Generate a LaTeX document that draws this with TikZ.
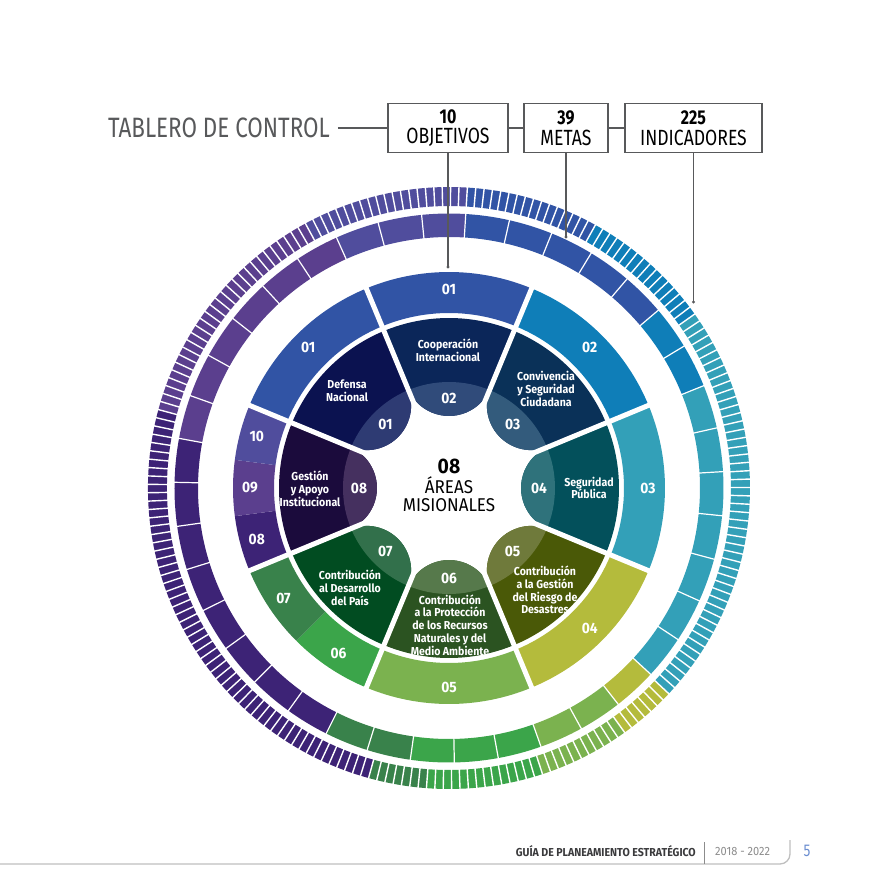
\documentclass[tikz,border=0pt]{standalone}
\usepackage{fontspec}
\setmainfont{Fira Sans}[FakeStretch=0.8]
\newfontfamily\widesans{Fira Sans}[FakeStretch=0.92]
\usetikzlibrary{positioning}
\definecolor{obj01}{HTML}{3154A5}
\definecolor{obj02}{HTML}{0F7EB8}
\definecolor{obj03}{HTML}{33A0B8}
\definecolor{obj04}{HTML}{B4BB3C}
\definecolor{obj05}{HTML}{7BB24F}
\definecolor{obj06}{HTML}{3BA54A}
\definecolor{obj07}{HTML}{39824B}
\definecolor{obj08}{HTML}{3D2376}
\definecolor{obj09}{HTML}{5B3F8E}
\definecolor{obj10}{HTML}{504D9D}
\definecolor{areaDef}{HTML}{0B1250}
\definecolor{lobeDef}{HTML}{2E3B73}
\definecolor{areaCoop}{HTML}{0B2659}
\definecolor{lobeCoop}{HTML}{304B7A}
\definecolor{areaConv}{HTML}{0A3158}
\definecolor{lobeConv}{HTML}{335B7C}
\definecolor{areaSeg}{HTML}{03505B}
\definecolor{lobeSeg}{HTML}{2F727B}
\definecolor{areaRie}{HTML}{4A5907}
\definecolor{lobeRie}{HTML}{6F7A3B}
\definecolor{areaPro}{HTML}{2B5321}
\definecolor{lobePro}{HTML}{56794B}
\definecolor{areaDes}{HTML}{014C21}
\definecolor{lobeDes}{HTML}{32704B}
\definecolor{areaGes}{HTML}{1B0B3C}
\definecolor{lobeGes}{HTML}{45305F}
\definecolor{framegray}{HTML}{58595B}
\definecolor{footgray}{HTML}{3A3A3C}
\definecolor{pageblue}{HTML}{6A8DD0}

% annular piece: color, start angle, end angle, inner radius, outer radius
\newcommand\ringseg[5]{\fill[#1] ({#2}:#4) arc[start angle=#2, end angle=#3, radius=#4] -- ({#3}:#5) arc[start angle=#3, end angle=#2, radius=#5] -- cycle;}
% area petal: angle, color
\newcommand\petal[2]{\fill[#2] ({#1+22.5}:170) arc[start angle={#1+22.5}, end angle={#1-22.5}, radius=170] -- ({#1-22.5}:107.8) arc[start angle={#1-112.5}, end angle={#1-247.5}, radius=44.66] -- cycle;}

\begin{document}
\begin{tikzpicture}[x=1pt, y=1pt,
    ringnum/.style={text=white, font=\widesans\bfseries\fontsize{15}{15}\selectfont},
    areatxt/.style={text=white, align=center, font=\widesans\bfseries\fontsize{11.5}{12.8}\selectfont},
    countbox/.style={draw=framegray, line width=1.3, align=center, minimum height=49, inner sep=0, font=\fontsize{22}{20.5}\selectfont},
    link/.style={framegray, line width=1.2}]
    \useasboundingbox (-449,-407) rectangle (442,488);

    % Indicator ring (225)
    \foreach \c/\f/\n in {obj01/0/16, obj02/16/16, obj03/32/49, obj04/81/7, obj05/88/11, obj06/99/14, obj07/113/7, obj08/120/56, obj09/176/29, obj10/205/20}{
        \pgfmathsetmacro\aS{86.5-1.6*\f}
        \pgfmathsetmacro\aE{86.5-1.6*(\f+\n)}
        \ringseg{\c}{\aS}{\aE}{282}{301}
    }
    \foreach \i in {0,...,224}
        \draw[white, line width=1.4] ({86.5-1.6*\i}:280) -- ({86.5-1.6*\i}:303);

    % Goal ring (39)
    \foreach \c/\f/\n in {obj01/0/5, obj02/5/2, obj03/7/7, obj04/14/1, obj05/15/2, obj06/17/3, obj07/20/2, obj08/22/8, obj09/30/6, obj10/36/3}{
        \pgfmathsetmacro\aS{86.5-360/39*\f}
        \pgfmathsetmacro\aE{86.5-360/39*(\f+\n)}
        \ringseg{\c}{\aS}{\aE}{251}{274.5}
    }
    \foreach \i in {0,...,38}
        \draw[white, line width=1.2] ({86.5-360/39*\i}:249) -- ({86.5-360/39*\i}:277);

    % Objective ring (10)
    \foreach \c/\a/\b in {obj01/67.5/112.5, obj01/112.5/157.5, obj02/22.5/67.5, obj03/-22.5/22.5, obj04/-67.5/-22.5, obj05/-112.5/-67.5, obj06/-135/-112.5, obj07/-157.5/-135, obj08/-172.5/-157.5, obj09/-187.5/-172.5, obj10/-202.5/-187.5}{
        \ringseg{\c}{\a}{\b}{175}{216}
    }

    % Mission areas
    \foreach \ang/\base/\lobe in {135/areaDef/lobeDef, 90/areaCoop/lobeCoop, 45/areaConv/lobeConv, 0/areaSeg/lobeSeg, -45/areaRie/lobeRie, -90/areaPro/lobePro, -135/areaDes/lobeDes, 180/areaGes/lobeGes}{
        \petal{\ang}{\base}
        \begin{scope}
            \clip (0,0) circle (106);
            \petal{\ang}{\lobe}
        \end{scope}
    }

    % Gaps
    \foreach \a in {22.5,67.5,...,337.5}
        \draw[white, line width=5] (\a:60) -- (\a:220);

    % Ring numbers
    \foreach \t/\a [count=\k] in {01/90, 01/135, 02/45, 03/0, 04/-45, 05/-90, 06/-123.75, 07/-146.25, 08/-165, 09/180, 10/165}
        \node[ringnum] (objlbl\k) at (\a:199) {\t};
    \foreach \t/\a [count=\k] in {01/135, 02/90, 03/45, 04/0, 05/-45, 06/-90, 07/-135, 08/180}
        \node[ringnum] (lobe\k) at (\a:90) {\t};

    % Area names
    \node[areatxt] (defensa) at (-102,97) {Defensa\\Nacional};
    \node[areatxt] (coop) at (-1,138) {Cooperación\\Internacional};
    \node[areatxt] (conv) at (97,99) {Convivencia\\y Seguridad\\Ciudadana};
    \node[areatxt] (segpub) at (140,0) {Seguridad\\Pública};
    \node[areatxt] (riesgo) at (96,-102) {Contribución\\a la Gestión\\del Riesgo de\\Desastres};
    \node[areatxt] (proteccion) at (1,-137) {Contribución\\a la Protección\\de los Recursos\\Naturales y del\\Medio Ambiente};
    \node[areatxt] (desarrollo) at (-99,-100) {Contribución\\al Desarrollo\\del País};
    \node[areatxt] (gestion) at (-139,-1) {Gestión\\y Apoyo\\Institucional};

    % Center
    \node[inner sep=0, font=\widesans\bfseries\fontsize{21}{21}\selectfont] (ctrnum) at (0,22) {08};
    \node[inner sep=0, align=center, font=\widesans\fontsize{18.5}{17.5}\selectfont] (ctrtxt) at (0,-6) {ÁREAS\\MISIONALES};

    % Header
    \node[anchor=east, inner sep=0, text=framegray, font=\fontsize{28}{28}\selectfont] (title) at (-119,360) {TABLERO DE CONTROL};
    \node[countbox, minimum width=120] (objbox) at (-1,360) {{\bfseries\fontsize{20}{20.5}\selectfont 10}\\OBJETIVOS};
    \node[countbox, minimum width=84] (metabox) at (117,360) {{\bfseries\fontsize{20}{20.5}\selectfont 39}\\METAS};
    \node[countbox, minimum width=137] (indbox) at (244.5,360) {{\bfseries\fontsize{20}{20.5}\selectfont 225}\\INDICADORES};
    \coordinate (objend) at (-1,221);
    \coordinate (metaend) at (117,251);
    \coordinate (indend) at (244.5,186);
    \draw[link] ([xshift=8]title.east) -- (objbox.west);
    \draw[link] (objbox.east) -- (metabox.west);
    \draw[link] (metabox.east) -- (indbox.west);
    \draw[link] (objbox.south) -- (objend);
    \draw[link] (metabox.south) -- (metaend);
    \draw[link] (indbox.south) -- (indend);
    \fill[framegray] (objend) circle (1.6);
    \fill[framegray] (metaend) circle (1.6);
    \fill[framegray] (indend) circle (1.6);

    % Footer
    \coordinate (footstart) at (-449,-376);
    \coordinate (footend) at (341,-352);
    \draw[black!25, line width=1.3] (footstart) -- (331,-376) arc[start angle=-90, end angle=0, radius=10] -- (footend);
    \node[anchor=east, inner sep=0, text=footgray, font=\widesans\bfseries\fontsize{11.5}{12}\selectfont] (guide) at (247,-363) {GUÍA DE PLANEAMIENTO ESTRATÉGICO};
    \coordinate (septop) at (255,-354);
    \coordinate (sepbot) at (255,-376);
    \draw[black!45, line width=0.8] (septop) -- (sepbot);
    \node[anchor=west, inner sep=0, text=black!45, font=\widesans\fontsize{12}{12}\selectfont] (years) at (266,-363) {2018 - 2022};
    \node[text=pageblue, font=\fontsize{17}{17}\selectfont] (page) at (358,-363) {5};
\end{tikzpicture}
\end{document}
